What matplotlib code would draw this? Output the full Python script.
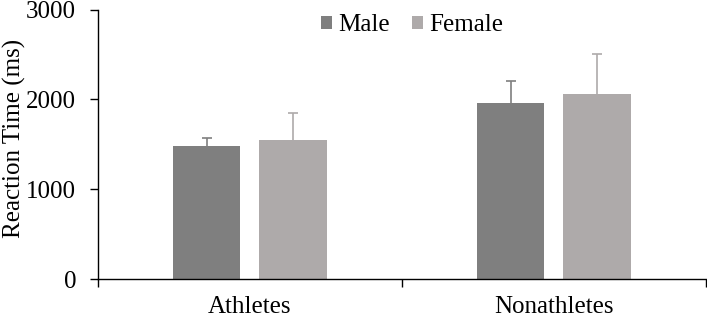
import numpy as np
import matplotlib.pyplot as plt

groups = ['Athletes', 'Nonathletes']
series = ['Male', 'Female']
male_means = [1477, 1959]
male_sd = [90, 248]
female_means = [1551, 2059]
female_sd = [297, 442]
colors = ['#7f7f7f', '#aeaaaa']

plt.rcParams['font.family'] = ['Liberation Serif', 'DejaVu Serif']
plt.rcParams['font.size'] = 18

fig = plt.figure(figsize=(7.07, 3.18), dpi=100)
ax = fig.add_axes([0.1386, 0.1226, 0.8594, 0.8475])

ind = np.arange(len(groups))
width = 0.222
off = 0.142

for i, (means, sd) in enumerate([(male_means, male_sd), (female_means, female_sd)]):
    pos = ind + (off if i else -off)
    ax.bar(pos, means, width, color=colors[i], label=series[i], zorder=2)
    _, caps, _ = ax.errorbar(pos, means, yerr=[np.zeros(len(sd)), sd], fmt='none',
                             ecolor=colors[i], elinewidth=1.2, capsize=3.5,
                             capthick=1.2, zorder=1)
    caps[0].set_visible(False)  # hide lower cap (zero length)

ax.set_xlim(-0.5, 1.5)
ax.set_ylim(0, 3000)
ax.set_yticks([0, 1000, 2000, 3000])
ax.set_xticks(ind)
ax.set_xticklabels(groups)
ax.set_xticks([-0.5, 0.5, 1.5], minor=True)
ax.tick_params(axis='x', which='major', length=0, pad=12.5)
ax.tick_params(axis='x', which='minor', length=5.8, width=1, direction='out')
ax.tick_params(axis='y', length=5.8, width=1, direction='out', pad=10)

for s in ['top', 'right']:
    ax.spines[s].set_visible(False)
ax.spines['left'].set_linewidth(1)
ax.spines['bottom'].set_linewidth(1)

ax.set_ylabel('Reaction Time (ms)')
ax.yaxis.set_label_coords(-0.118, 0.521)

ax.legend(loc='center', bbox_to_anchor=(0.517, 0.942), ncol=2, frameon=False,
          handlelength=0.45, handleheight=0.45, handletextpad=0.25,
          columnspacing=0.9, borderpad=0, borderaxespad=0)

fig.savefig('out.png', dpi=100)
